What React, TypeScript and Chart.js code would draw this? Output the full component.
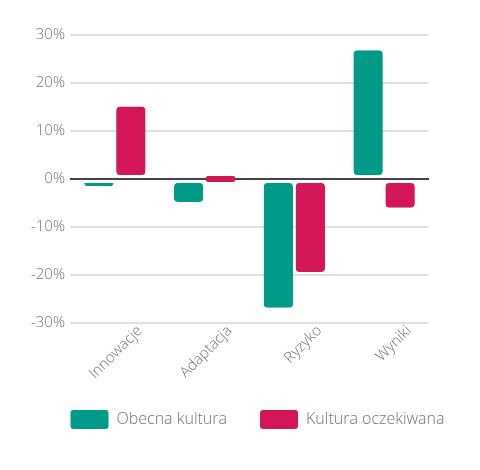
import React, { useEffect, useRef } from "react";
import { Chart, registerables } from "chart.js";

Chart.register(...registerables);

const categories = ["Innowacje", "Adaptacja", "Ryzyko", "Wyniki"];
const currentCulture = [-1.5, -4.8, -26.8, 26.8];
const expectedCulture = [15.1, 0, -19.4, -6.0];
const seriesLabels = ["Obecna kultura", "Kultura oczekiwana"];
const yMin = -30;
const yMax = 30;
const yStep = 10;

const TEAL = "#009a89";
const PINK = "#d21657";
const TEXT = "#737373";

const baseGap = (ctx: any) => {
  const v = ctx.raw as number;
  if (v === 0 || v === undefined) return 0;
  return v > 0 ? { top: 0, bottom: 3, left: 0, right: 0 } : { top: 3, bottom: 0, left: 0, right: 0 };
};
const radius = (ctx: any) => {
  const v = ctx.raw as number;
  if (v === 0 || v === undefined) return 3;
  return v > 0
    ? { topLeft: 4, topRight: 4, bottomLeft: 7, bottomRight: 7 }
    : { topLeft: 7, topRight: 7, bottomLeft: 4, bottomRight: 4 };
};

const zeroLinePlugin = {
  id: "zeroLine",
  afterDatasetsDraw(chart: any) {
    const { ctx, chartArea } = chart;
    const y = chart.scales.y.getPixelForValue(0);
    ctx.save();
    ctx.strokeStyle = "#444444";
    ctx.lineWidth = 2;
    ctx.beginPath();
    ctx.moveTo(chartArea.left, y);
    ctx.lineTo(chartArea.right, y);
    ctx.stroke();
    ctx.restore();
    chart.data.datasets.forEach((ds: any, i: number) => {
      const meta = chart.getDatasetMeta(i);
      meta.data.forEach((el: any, j: number) => {
        if (ds.data[j] === 0) el.draw(ctx, chartArea);
      });
    });
  },
};

export default function App() {
  const ref = useRef<HTMLCanvasElement>(null);
  useEffect(() => {
    if (!ref.current) return;
    const font = { family: "'Open Sans', sans-serif", weight: "300" as any };
    const chart = new Chart(ref.current, {
      type: "bar",
      data: {
        labels: categories,
        datasets: [
          {
            label: seriesLabels[0],
            data: currentCulture,
            backgroundColor: TEAL,
            borderColor: "#ffffff",
            borderWidth: baseGap as any,
            borderRadius: radius as any,
            borderSkipped: false,
            minBarLength: 6,
            categoryPercentage: 0.713,
            barPercentage: 0.92,
            yAxisID: "y",
          },
          {
            label: seriesLabels[1],
            data: expectedCulture,
            backgroundColor: PINK,
            borderColor: "#ffffff",
            borderWidth: baseGap as any,
            borderRadius: radius as any,
            borderSkipped: false,
            minBarLength: 6,
            categoryPercentage: 0.713,
            barPercentage: 0.92,
            yAxisID: "y",
          },
        ],
      },
      options: {
        animation: false,
        responsive: true,
        maintainAspectRatio: false,
        layout: { padding: { left: 0, right: 0, top: 27, bottom: 31 } },
        scales: {
          x: {
            grid: { display: false, drawTicks: false },
            border: { display: false },
            ticks: {
              color: TEXT,
              font: { ...font, size: 15 },
              maxRotation: 45,
              minRotation: 45,
              labelOffset: 25,
              padding: -1,
            },
            afterFit: (scale: any) => {
              scale.height = 54;
              scale._computeLabelArea = () => undefined;
            },
          },
          y: {
            min: yMin,
            max: yMax,
            grid: {
              drawTicks: false,
              lineWidth: 2,
              color: (ctx: any) => (ctx.tick && ctx.tick.value === 0 ? "rgba(0,0,0,0)" : "#e0e0e0"),
            },
            border: { display: false },
            ticks: {
              stepSize: yStep,
              color: TEXT,
              font: { ...font, size: 15 },
              padding: 5,
              callback: (v: any) => `${v}%`,
            },
            afterFit: (scale: any) => {
              scale.width = 62;
            },
          },
          yRight: {
            type: "linear",
            position: "right",
            display: true,
            grid: { display: false, drawTicks: false },
            border: { display: false },
            ticks: { display: false },
            afterFit: (scale: any) => {
              scale.width = 78;
            },
          },
        },
        plugins: {
          tooltip: { enabled: false },
          legend: {
            position: "bottom",
            align: "center",
            labels: {
              boxWidth: 38,
              boxHeight: 19,
              padding: 33,
              color: TEXT,
              font: { ...font, size: 16 },
              useBorderRadius: true,
              borderRadius: 3,
              generateLabels: (c: any) =>
                Chart.defaults.plugins.legend.labels
                  .generateLabels(c)
                  .map((l: any) => ({ ...l, lineWidth: 0, strokeStyle: "rgba(0,0,0,0)" })),
            },
          },
        },
      },
      plugins: [zeroLinePlugin],
    });
    return () => chart.destroy();
  }, []);
  return (
    <div style={{ width: 464, height: 462, overflow: "hidden" }}>
      <div style={{ width: 499, height: 462, position: "relative" }}>
        <canvas ref={ref} />
      </div>
    </div>
  );
}
